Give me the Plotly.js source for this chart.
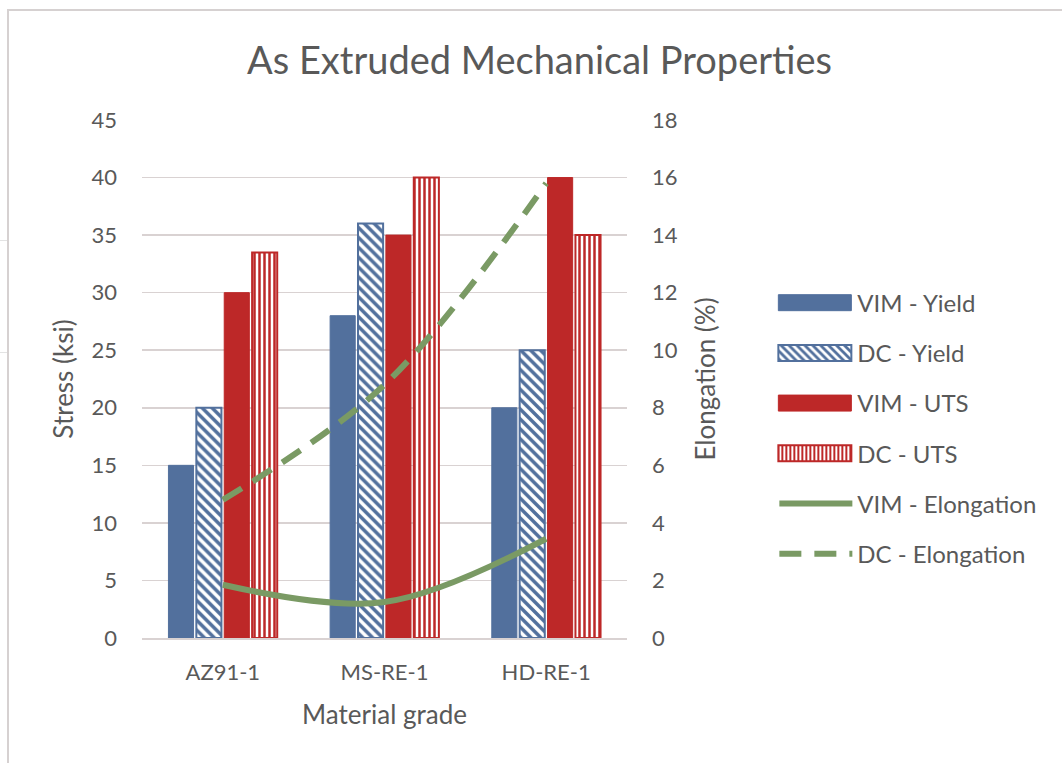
<!DOCTYPE html>
<html>
<head>
<meta charset="utf-8">
<script src="https://cdn.plot.ly/plotly-3.0.1.min.js"></script>
<style>
  html, body { margin: 0; padding: 0; background: #ffffff; }
  #frame {
    position: absolute; left: 7px; top: 9px; width: 1060px; height: 760px;
    border-left: 2px solid #d6d1d1; border-top: 2px solid #d6d1d1;
  }
  .cellrule { position: absolute; left: 0; width: 7px; height: 1px; background: #e3e3e3; }
  #chart { position: absolute; left: 0; top: 0; width: 1062px; height: 763px; }
</style>
</head>
<body>
<div id="frame"></div>
<div class="cellrule" style="top:240px"></div>
<div class="cellrule" style="top:352px"></div>
<div id="chart"></div>
<script>
// Material grades on the category axis
const grades = ['AZ91-1', 'MS-RE-1', 'HD-RE-1'];

// Stress values (ksi)
const vimYield = [15, 28, 20];
const dcYield  = [20, 36, 25];
const vimUTS   = [30, 35, 40];
const dcUTS    = [33.5, 40, 35];

// Elongation values (%)
const vimElong = [1.85, 1.25, 3.45];
const dcElong  = [4.8, 8.8, 15.8];

// Tick labels
const stressTicks = [0, 5, 10, 15, 20, 25, 30, 35, 40, 45];
const elongTicks  = [0, 2, 4, 6, 8, 10, 12, 14, 16, 18];

const BLUE = '#52709d';
const RED = '#bd2828';
const GREEN = '#7a9a64';
const TEXT = '#595959';
const GRID = '#d9d2d2';
const FONT = 'Lato, "Open Sans", sans-serif';

const traces = [
  {
    type: 'bar', name: 'VIM - Yield', x: grades, y: vimYield, legendgroup: 'a',
    marker: { color: BLUE, line: { color: BLUE, width: 1 } }
  },
  {
    type: 'bar', name: 'DC - Yield', x: grades, y: dcYield, legendgroup: 'b',
    marker: {
      color: '#ffffff', line: { color: BLUE, width: 2 },
      pattern: { shape: '\\', fgcolor: BLUE, fgopacity: 1, bgcolor: '#ffffff', size: 7, solidity: 0.5, fillmode: 'overlay' }
    }
  },
  {
    type: 'bar', name: 'VIM - UTS', x: grades, y: vimUTS, legendgroup: 'c',
    marker: { color: RED, line: { color: RED, width: 1 } }
  },
  {
    type: 'bar', name: 'DC - UTS', x: grades, y: dcUTS, legendgroup: 'd',
    marker: {
      color: '#ffffff', line: { color: RED, width: 2 },
      pattern: { shape: '|', fgcolor: RED, fgopacity: 1, bgcolor: '#ffffff', size: 5, solidity: 0.5, fillmode: 'overlay' }
    }
  },
  {
    type: 'scatter', mode: 'lines', name: 'VIM - Elongation', x: grades, y: vimElong,
    yaxis: 'y2', legendgroup: 'e',
    line: { color: GREEN, width: 6, shape: 'spline', smoothing: 1 }
  },
  {
    type: 'scatter', mode: 'lines', name: 'DC - Elongation', x: grades, y: dcElong,
    yaxis: 'y2', legendgroup: 'f',
    line: { color: GREEN, width: 6, shape: 'spline', smoothing: 1, dash: '22px,13px' }
  }
];

const layout = {
  width: 1062, height: 763,
  margin: { l: 142, r: 435, t: 120, b: 125 },
  paper_bgcolor: 'rgba(0,0,0,0)',
  plot_bgcolor: 'rgba(0,0,0,0)',
  font: { family: FONT, color: TEXT, size: 22 },
  title: {
    text: 'As Extruded Mechanical Properties',
    font: { family: FONT, size: 38, color: TEXT },
    x: 0.508, xanchor: 'center', y: 0.921, yanchor: 'middle'
  },
  barmode: 'group',
  bargap: 0.31,
  bargroupgap: 0.1,
  showlegend: true,
  legend: {
    x: 1.2894, xanchor: 'left', y: 0.69, yanchor: 'top',
    font: { family: FONT, size: 24, color: TEXT },
    traceorder: 'grouped', tracegroupgap: 16, itemwidth: 80,
    itemclick: false, itemdoubleclick: false
  },
  xaxis: {
    type: 'category',
    showgrid: false, showline: true, linecolor: GRID, linewidth: 1.5,
    ticks: '', tickfont: { family: FONT, size: 22, color: TEXT },
    ticklabelstandoff: 14,
    title: { text: 'Material grade', font: { family: FONT, size: 26, color: TEXT }, standoff: 22 }
  },
  yaxis: {
    range: [0, 45], tickvals: stressTicks, ticktext: stressTicks.map(String),
    showgrid: true, gridcolor: GRID, gridwidth: 1.5,
    zeroline: false, showline: false, ticks: '',
    tickfont: { family: FONT, size: 22, color: TEXT },
    ticklabelstandoff: 24,
    title: { text: 'Stress (ksi)', font: { family: FONT, size: 26, color: TEXT }, standoff: 10 }
  },
  yaxis2: {
    overlaying: 'y', side: 'right',
    range: [0, 18], tickvals: elongTicks, ticktext: elongTicks.map(String),
    showgrid: false, zeroline: false, showline: false, ticks: '',
    tickfont: { family: FONT, size: 22, color: TEXT },
    ticklabelstandoff: 24,
    title: { text: 'Elongation (%)', font: { family: FONT, size: 26, color: TEXT }, standoff: 20 }
  }
};

Plotly.newPlot('chart', traces, layout, { staticPlot: true, displayModeBar: false }).then(function (gd) {
  // Widen the legend swatches into long bars / long line samples
  gd.querySelectorAll('.legend .traces path.legendbar, .legend .traces .legendpoints path').forEach(function (p) {
    p.setAttribute('d', 'M39,8H-34V-8H39Z');
  });
  gd.querySelectorAll('.legend .traces .legendlines path').forEach(function (p) {
    p.setAttribute('d', 'M12,0h73');
  });
});
</script>
</body>
</html>
